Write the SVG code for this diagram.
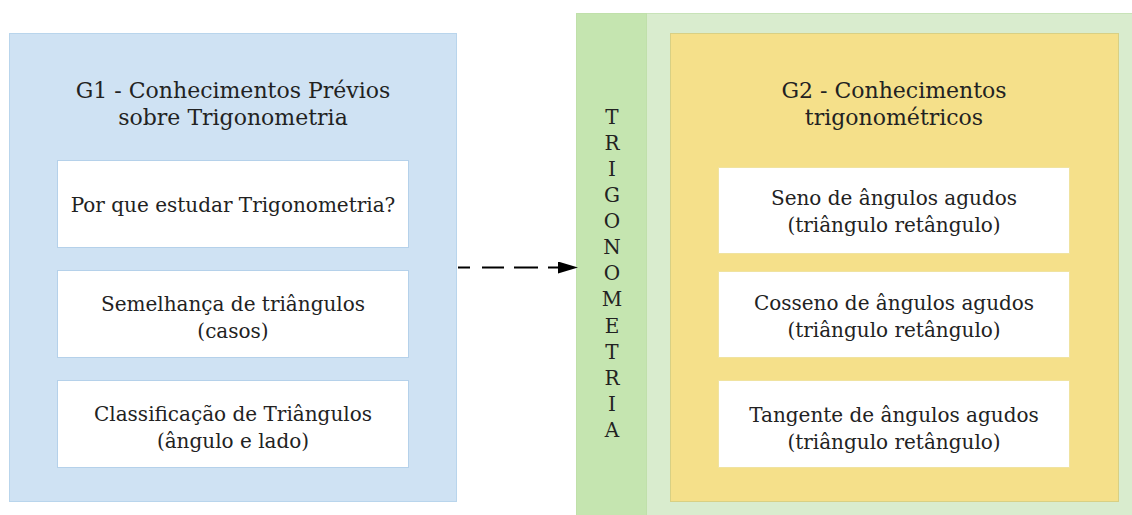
<svg xmlns="http://www.w3.org/2000/svg" width="1132" height="515" viewBox="0 0 1132 515">
<style>
text{font-family:"DejaVu Serif","Liberation Serif",serif;fill:#222;text-anchor:middle}
.t{font-size:22px}
.b{font-size:20px}
.v{font-size:20px}
.wb{fill:#fff;stroke:#b5d1ea;stroke-width:1}
.wy{fill:#fff;stroke:#f0e3a0;stroke-width:1}
</style>
<defs>
<marker id="ah" markerWidth="20" markerHeight="12" refX="19" refY="6" orient="auto" markerUnits="userSpaceOnUse">
<path d="M0,0 L20,6 L0,12 Z" fill="#000"/>
</marker>
</defs>
<rect width="1132" height="515" fill="#fff"/>
<g id="g1">
<rect x="9.5" y="33.5" width="447" height="468" fill="#cfe2f3" stroke="#b9d5ec"/>
<text class="t" x="233" y="98">G1 - Conhecimentos Prévios</text>
<text class="t" x="233" y="125">sobre Trigonometria</text>
</g>
<g id="n1">
<rect class="wb" x="57.5" y="160.5" width="351" height="87"/>
<text class="b" x="233" y="212">Por que estudar Trigonometria?</text>
</g>
<g id="n2">
<rect class="wb" x="57.5" y="270.5" width="351" height="87"/>
<text class="b" x="233" y="311">Semelhança de triângulos</text>
<text class="b" x="233" y="338">(casos)</text>
</g>
<g id="n3">
<rect class="wb" x="57.5" y="380.5" width="351" height="87"/>
<text class="b" x="233" y="421">Classificação de Triângulos</text>
<text class="b" x="233" y="448">(ângulo e lado)</text>
</g>
<g id="trig">
<rect x="576.5" y="13.5" width="560" height="510" fill="#d9ecce" stroke="#c8e3b8"/>
<rect x="576.5" y="13.5" width="70" height="510" fill="#c5e5b0" stroke="#c0e0aa"/>
<text class="v" x="612" y="124">T</text>
<text class="v" x="612" y="150">R</text>
<text class="v" x="612" y="176">I</text>
<text class="v" x="612" y="202">G</text>
<text class="v" x="612" y="228">O</text>
<text class="v" x="612" y="254">N</text>
<text class="v" x="612" y="280">O</text>
<text class="v" x="612" y="306">M</text>
<text class="v" x="612" y="333">E</text>
<text class="v" x="612" y="359">T</text>
<text class="v" x="612" y="385">R</text>
<text class="v" x="612" y="411">I</text>
<text class="v" x="612" y="437">A</text>
</g>
<g id="g2">
<rect x="670.5" y="33.5" width="448" height="468" fill="#f5e08a" stroke="#d8d084"/>
<text class="t" x="894" y="98">G2 - Conhecimentos</text>
<text class="t" x="894" y="125">trigonométricos</text>
</g>
<g id="n4">
<rect class="wy" x="718.5" y="167.5" width="351" height="86"/>
<text class="b" x="894" y="205">Seno de ângulos agudos</text>
<text class="b" x="894" y="232">(triângulo retângulo)</text>
</g>
<g id="n5">
<rect class="wy" x="718.5" y="271.5" width="351" height="86"/>
<text class="b" x="894" y="310">Cosseno de ângulos agudos</text>
<text class="b" x="894" y="337">(triângulo retângulo)</text>
</g>
<g id="n6">
<rect class="wy" x="718.5" y="380.5" width="351" height="87"/>
<text class="b" x="894" y="422">Tangente de ângulos agudos</text>
<text class="b" x="894" y="449">(triângulo retângulo)</text>
</g>
<g id="connectors">
<line x1="458" y1="267.5" x2="577" y2="267.5" stroke="#000" stroke-width="2" stroke-dasharray="12 12 22 10 24 10 13 30" marker-end="url(#ah)"/>
</g>
</svg>
